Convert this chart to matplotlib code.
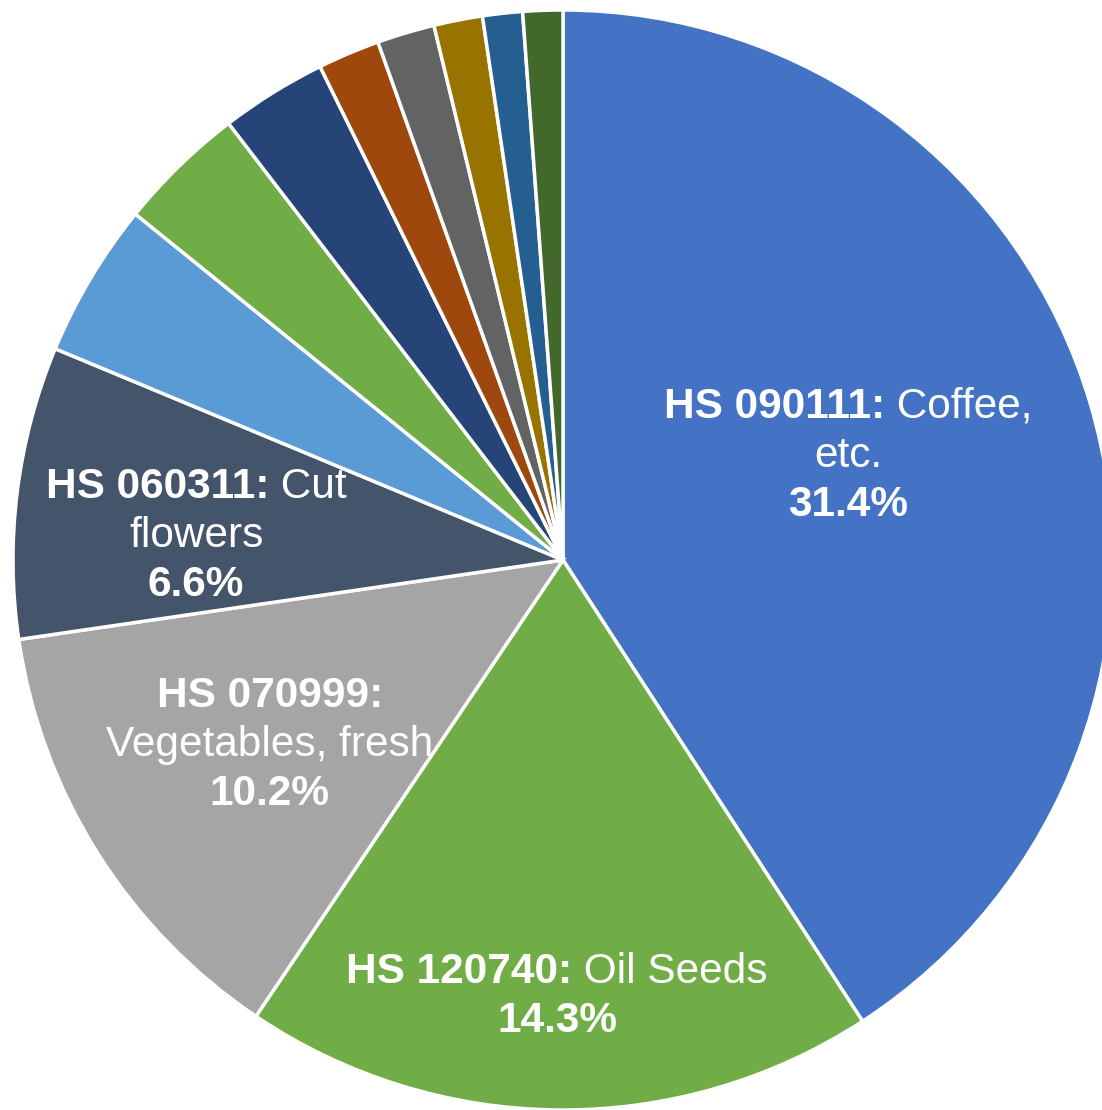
import matplotlib
matplotlib.use('Agg')
from matplotlib import pyplot as plt

# share of total exports (%), only the four biggest are labelled
codes = ['HS 090111', 'HS 120740', 'HS 070999', 'HS 060311',
         '', '', '', '', '', '', '', '']
# line breaks as in the original labels
descs = ['Coffee,\netc.', 'Oil Seeds', '\nVegetables, fresh', 'Cut\nflowers',
         '', '', '', '', '', '', '', '']
shares = [31.4, 14.3, 10.2, 6.6, 3.5, 2.9, 2.4, 1.4, 1.3, 1.1, 0.9, 0.9]

colors = ['#4472C4', '#70AD47', '#A5A5A5', '#44546A', '#5B9BD5', '#70AD47',
          '#264478', '#9E480E', '#636363', '#997300', '#255E91', '#43682B']

# label block centres, in pie radius units
label_xy = [(0.518, 0.196), (-0.011, -0.786), (-0.533, -0.329), (-0.667, 0.051)]

W, H = 1102, 1110
CX, CY, R = 563, 560, 550      # pie centre / radius in pixels
FS = 30.5
LINE = 49.3 / R                # line spacing
CAP = 15.0 / R                 # half cap height

plt.rcParams['font.family'] = ['Liberation Sans', 'DejaVu Sans']

fig = plt.figure(figsize=(W / 100, H / 100), dpi=100)
ax = fig.add_axes([0, 0, 1, 1])
ax.pie(shares, colors=colors, startangle=90, counterclock=False, radius=1.0,
       wedgeprops=dict(edgecolor='white', linewidth=2.5))
ax.set_xlim(-CX / R, (W - CX) / R)
ax.set_ylim(-(H - CY) / R, CY / R)
ax.set_aspect('auto')
ax.axis('off')

fig.canvas.draw()
renderer = fig.canvas.get_renderer()


def rich_line(x, y, parts):
    arts = [ax.text(0, 0, s, fontsize=FS, fontweight=w, color='white',
                    ha='left', va='baseline') for s, w in parts]
    widths = [a.get_window_extent(renderer).width / R for a in arts]
    left = x - sum(widths) / 2
    for a, w in zip(arts, widths):
        a.set_position((left, y))
        left += w


for i, (x, y) in enumerate(label_xy):
    pieces = descs[i].split('\n')
    lines = []
    first = [(codes[i] + ':', 'bold')]
    if pieces[0]:
        first.append((' ' + pieces[0], 'normal'))
    lines.append(first)
    for p in pieces[1:]:
        lines.append([(p, 'normal')])
    lines.append([(f'{shares[i]:.1f}%', 'bold')])
    n = len(lines)
    for k, parts in enumerate(lines):
        yy = y + ((n - 1) / 2 - k) * LINE - CAP
        rich_line(x, yy, parts)

plt.savefig('out.png', dpi=100)
